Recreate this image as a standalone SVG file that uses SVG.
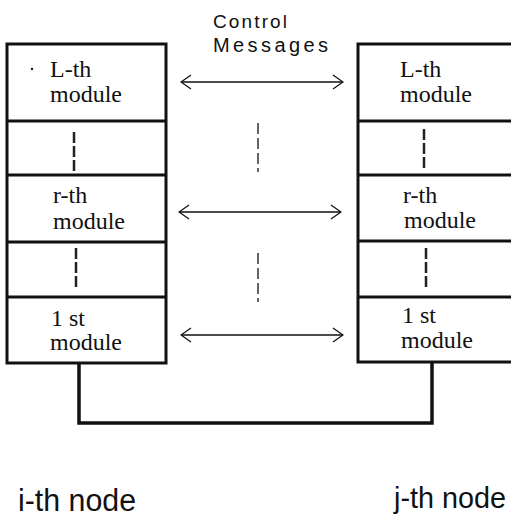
<svg xmlns="http://www.w3.org/2000/svg" width="511" height="519" viewBox="0 0 511 519">
<style>
.box{fill:#fff;stroke:#111;stroke-width:3}
.div{stroke:#111;stroke-width:3}
.mod{font-family:"Liberation Serif",serif;font-size:24px;fill:#111}
.dash{stroke:#222;stroke-width:2.5;stroke-dasharray:11 3}
.dash2{stroke:#111;stroke-width:1.3;stroke-dasharray:11 4}
.arr{stroke:#111;stroke-width:1.3;fill:none;marker-start:url(#ah);marker-end:url(#ah)}
.conn{stroke:#111;stroke-width:3.5;fill:none}
.lbl{font-family:"Liberation Sans",sans-serif;fill:#111}
</style>
<defs>
<marker id="ah" viewBox="0 0 12 16" refX="11" refY="8" markerWidth="12" markerHeight="16" markerUnits="userSpaceOnUse" orient="auto-start-reverse">
<path d="M1,1 L11,8 L1,15" fill="none" stroke="#111" stroke-width="1.3"/>
</marker>
</defs>
<g id="connectors">
<path class="conn" d="M79,363 V423 H432 V363"/>
<line class="arr" x1="181" y1="82" x2="343" y2="82"/>
<line class="arr" x1="179" y1="212" x2="341" y2="212"/>
<line class="arr" x1="181" y1="335" x2="343" y2="335"/>
<line class="dash2" x1="258" y1="123" x2="258" y2="172"/>
<line class="dash2" x1="258" y1="253" x2="258" y2="302"/>
</g>
<g id="control-label">
<text class="lbl" x="213" y="28" font-size="19" textLength="74" lengthAdjust="spacing">Control</text>
<text class="lbl" x="213" y="52" font-size="20" textLength="115" lengthAdjust="spacing">Messages</text>
</g>
<g id="node-i">
<rect class="box" x="7" y="44" width="159" height="319"/>
<line class="div" x1="7" y1="121" x2="166" y2="121"/>
<line class="div" x1="7" y1="175" x2="166" y2="175"/>
<line class="div" x1="7" y1="242" x2="166" y2="242"/>
<line class="div" x1="7" y1="297" x2="166" y2="297"/>
<circle cx="32" cy="69" r="1.2" fill="#111"/>
<text class="mod" x="50" y="77">L-th</text>
<text class="mod" x="50" y="102">module</text>
<line class="dash" x1="74" y1="132" x2="74" y2="171"/>
<text class="mod" x="53" y="203">r-th</text>
<text class="mod" x="53" y="229">module</text>
<line class="dash" x1="76" y1="248" x2="76" y2="289"/>
<text class="mod" x="51" y="326">1 st</text>
<text class="mod" x="50" y="350">module</text>
<text class="lbl" x="18" y="511" font-size="31" textLength="118" lengthAdjust="spacingAndGlyphs">i-th node</text>
</g>
<g id="node-j">
<rect class="box" x="358" y="44" width="160" height="318"/>
<line class="div" x1="358" y1="121" x2="518" y2="121"/>
<line class="div" x1="358" y1="175" x2="518" y2="175"/>
<line class="div" x1="358" y1="241" x2="518" y2="241"/>
<line class="div" x1="358" y1="297" x2="518" y2="297"/>
<text class="mod" x="400" y="77">L-th</text>
<text class="mod" x="400" y="102">module</text>
<line class="dash" x1="424" y1="129" x2="424" y2="170" stroke-width="3"/>
<text class="mod" x="403" y="203">r-th</text>
<text class="mod" x="404" y="228">module</text>
<line class="dash" x1="426" y1="248" x2="426" y2="288" stroke-width="3"/>
<text class="mod" x="402" y="323">1 st</text>
<text class="mod" x="401" y="348">module</text>
<text class="lbl" x="394" y="508" font-size="29" textLength="112" lengthAdjust="spacingAndGlyphs">j-th node</text>
</g>
</svg>
